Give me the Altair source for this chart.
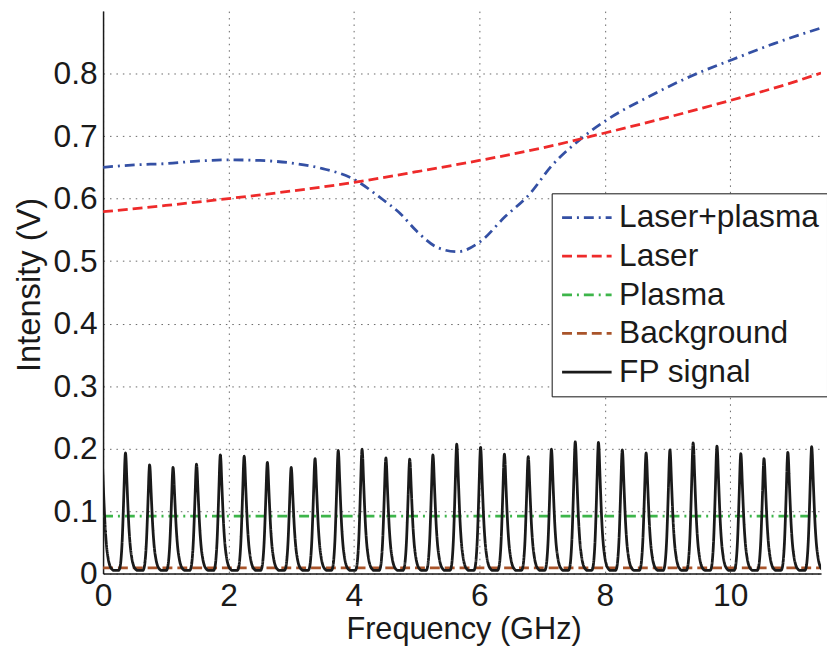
import altair as alt
import pandas as pd

# ---------------- data ----------------
SERIES = ["Laser+plasma", "Laser", "Plasma", "Background", "FP signal"]
COLORS = ["#3450a4", "#ee2a2a", "#3db54a", "#a9542a", "#1a1a1a"]
DASHES = [[10, 5, 2, 5], [10, 5], [10, 5, 2, 5], [10, 5], [1, 0]]

lp_x = [0, 0.5, 1, 1.5, 2, 2.5, 3, 3.5, 4, 4.4, 4.75, 5.0, 5.35, 5.65, 6.0,
        6.4, 6.8, 7.15, 7.6, 8.05, 8.7, 9.4, 10.05, 10.7, 11.45]
lp_y = [0.650, 0.654, 0.656, 0.660, 0.662, 0.661, 0.657, 0.648, 0.631, 0.603,
        0.575, 0.548, 0.521, 0.515, 0.530, 0.570, 0.607, 0.652, 0.694, 0.727,
        0.763, 0.797, 0.823, 0.848, 0.873]

laser_x = [0, 1, 2, 3, 4, 5, 6, 7, 8, 9, 10, 11, 11.45]
laser_y = [0.579, 0.589, 0.600, 0.612, 0.626, 0.643, 0.661, 0.681, 0.705,
           0.730, 0.757, 0.786, 0.801]

plasma_x = [0, 11.45]
plasma_y = [0.092, 0.092]

bg_x = [0, 11.45]
bg_y = [0.009, 0.009]

# FP transmission peaks: centres (GHz) and peak heights (V)
fp_centers = [-0.02, 0.357, 0.742, 1.116, 1.49, 1.87, 2.25, 2.62, 3.0, 3.38,
              3.75, 4.13, 4.51, 4.89, 5.26, 5.64, 6.02, 6.40, 6.78, 7.15,
              7.53, 7.90, 8.28, 8.66, 9.04, 9.41, 9.79, 10.17, 10.54, 10.92,
              11.30]
fp_heights = [0.185, 0.193, 0.174, 0.170, 0.175, 0.190, 0.188, 0.178, 0.170,
              0.184, 0.197, 0.199, 0.185, 0.183, 0.190, 0.207, 0.202, 0.191,
              0.187, 0.199, 0.211, 0.210, 0.198, 0.193, 0.198, 0.209, 0.204,
              0.192, 0.184, 0.194, 0.203]
fp_floor = 0.005
# single-peak profile (offset GHz, fraction of height)
prof_dx = [-0.11, -0.09, -0.07, -0.05, -0.035, -0.02, -0.01, 0.0, 0.01, 0.02,
           0.035, 0.05, 0.07, 0.10, 0.13, 0.16, 0.19]
prof_fr = [0.0, 0.02, 0.10, 0.28, 0.50, 0.75, 0.92, 1.0, 0.94, 0.80, 0.60,
           0.42, 0.25, 0.11, 0.04, 0.012, 0.0]

# ---------------- table ----------------
rows = []
def add(name, xs, ys):
    for a, b in zip(xs, ys):
        rows.append({"series": name, "x": a, "y": b, "i": len(rows)})

add("Laser+plasma", lp_x, lp_y)
add("Laser", laser_x, laser_y)
add("Plasma", plasma_x, plasma_y)
add("Background", bg_x, bg_y)
fx, fy = [], []
for c, h in zip(fp_centers, fp_heights):
    for dx, fr in zip(prof_dx, prof_fr):
        fx.append(round(c + dx, 4))
        fy.append(fp_floor + fr * (h - fp_floor))
add("FP signal", fx, fy)
df = pd.DataFrame(rows)

FONT = "Liberation Sans"

def legend():
    # wide flat custom stroke symbol: 50 px long at size 900
    return alt.Legend(title=None, orient="none", legendX=453, legendY=184,
                      symbolType="M-1.667,0H1.667", symbolSize=900,
                      symbolStrokeWidth=2.8, symbolOffset=11,
                      labelFontSize=32, labelFont=FONT,
                      labelOffset=16, rowPadding=6, padding=8, labelLimit=0,
                      fillColor="white", strokeColor="#111", cornerRadius=0,
                      labelColor="#1a1a1a")

chart = alt.Chart(df).mark_line(strokeWidth=2.8, interpolate="monotone", clip=True).encode(
    x=alt.X("x:Q", title="Frequency (GHz)",
            scale=alt.Scale(domain=[0, 11.45], nice=False, zero=False),
            axis=alt.Axis(values=[0, 2, 4, 6, 8, 10], format="d",
                          labelFontSize=32, titleFontSize=31, labelPadding=7,
                          labelFlush=False,
                          titleX=364, titleY=57, titleBaseline="middle",
                          titleFontWeight="normal")),
    y=alt.Y("y:Q", title="Intensity (V)",
            scale=alt.Scale(domain=[0, 0.9], nice=False),
            axis=alt.Axis(values=[0, 0.1, 0.2, 0.3, 0.4, 0.5, 0.6, 0.7, 0.8],
                          labelExpr="datum.value == 0 ? '0' : format(datum.value, '.1f')",
                          labelFontSize=32, titleFontSize=33, labelPadding=6,
                          titleAngle=270, titleX=-74, titleY=276,
                          titleBaseline="middle", titleAlign="center",
                          titleFontWeight="normal")),
    color=alt.Color("series:N", sort=SERIES,
                    scale=alt.Scale(domain=SERIES, range=COLORS),
                    legend=legend()),
    strokeDash=alt.StrokeDash("series:N", sort=SERIES,
                              scale=alt.Scale(domain=SERIES, range=DASHES),
                              legend=legend()),
    order="i:Q",
).properties(
    width=725, height=568,
    autosize=alt.AutoSizeParams(type="none"),
    padding={"left": 96, "top": 0, "right": 6, "bottom": 74},
).configure_view(stroke=None).configure_axis(
    labelFont=FONT, titleFont=FONT, labelColor="#1a1a1a", titleColor="#1a1a1a",
    domainColor="#1a1a1a", domainWidth=1.5, ticks=False,
    gridColor="#555555", gridDash=[1.5, 5], gridWidth=1, gridOpacity=0.9,
)

chart.save("out.html", embed_options={"renderer": "svg", "actions": False})
